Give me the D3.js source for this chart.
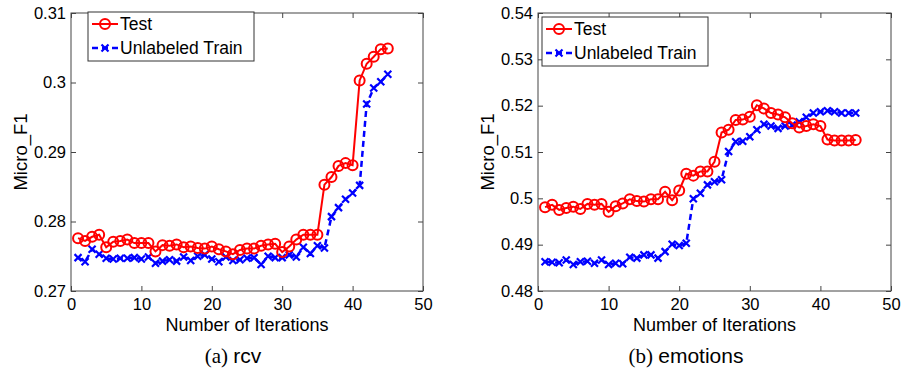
<!DOCTYPE html>
<html>
<head>
<meta charset="utf-8">
<script src="https://cdn.jsdelivr.net/npm/d3@7"></script>
<style>
  body { margin: 0; background: #fff; }
  svg text { font-family: "Liberation Sans", Arial, sans-serif; fill: #000; }
</style>
</head>
<body>
<svg id="chart" width="901" height="370"></svg>
<script>
// iterations 1..45
var iterations = d3.range(1, 46);

// (a) rcv
var rcvTest = [0.2776, 0.2772, 0.2778, 0.2781, 0.2763, 0.2771, 0.2772, 0.2774, 0.2769, 0.2769,
  0.2769, 0.2757, 0.2766, 0.2765, 0.2767, 0.2763, 0.2764, 0.2762, 0.2761, 0.2764,
  0.2760, 0.2757, 0.2753, 0.2759, 0.2761, 0.2761, 0.2765, 0.2767, 0.2768, 0.2756,
  0.2764, 0.2774, 0.2781, 0.2781, 0.2781, 0.2853, 0.2864, 0.2880, 0.2884, 0.2881,
  0.3003, 0.3027, 0.3037, 0.3048, 0.3049];
var rcvTrain = [0.2748, 0.2742, 0.2760, 0.2753, 0.2747, 0.2746, 0.2747, 0.2747, 0.2748, 0.2746,
  0.2749, 0.2740, 0.2743, 0.2745, 0.2743, 0.2749, 0.2744, 0.2750, 0.2752, 0.2746,
  0.2742, 0.2749, 0.2744, 0.2745, 0.2747, 0.2748, 0.2738, 0.2750, 0.2748, 0.2748,
  0.2752, 0.2749, 0.2763, 0.2754, 0.2765, 0.2762, 0.2807, 0.2820, 0.2832, 0.2841,
  0.2852, 0.2969, 0.2992, 0.3001, 0.3012];

// (b) emotions
var emoTest = [0.4981, 0.4986, 0.4975, 0.4979, 0.4982, 0.4977, 0.4988, 0.4986, 0.4988, 0.4971,
  0.4983, 0.4989, 0.4998, 0.4994, 0.4993, 0.4998, 0.4998, 0.5014, 0.4996, 0.5017,
  0.5053, 0.5049, 0.5058, 0.5058, 0.5079, 0.5142, 0.5148, 0.5169, 0.5170, 0.5176,
  0.5201, 0.5194, 0.5184, 0.5181, 0.5175, 0.5162, 0.5153, 0.5156, 0.5160, 0.5156,
  0.5127, 0.5125, 0.5125, 0.5125, 0.5126];
var emoTrain = [0.4863, 0.4862, 0.4861, 0.4867, 0.4857, 0.4863, 0.4864, 0.4860, 0.4867, 0.4857,
  0.4860, 0.4859, 0.4873, 0.4871, 0.4878, 0.4878, 0.4871, 0.4885, 0.4901, 0.4898,
  0.4903, 0.4999, 0.5011, 0.5029, 0.5036, 0.5040, 0.5101, 0.5122, 0.5123, 0.5133,
  0.5148, 0.5160, 0.5156, 0.5151, 0.5156, 0.5158, 0.5165, 0.5175, 0.5184, 0.5187,
  0.5189, 0.5187, 0.5184, 0.5184, 0.5184];

var xTicks = [0, 10, 20, 30, 40, 50];
var rcvTicks = [0.27, 0.28, 0.29, 0.30, 0.31];
var emoTicks = [0.48, 0.49, 0.50, 0.51, 0.52, 0.53, 0.54];
var seriesNames = ["Test", "Unlabeled Train"];

var svg = d3.select("#chart");

function panel(opt) {
  var x = d3.scaleLinear().domain([0, 50]).range([opt.left, opt.right]);
  var y = d3.scaleLinear().domain(opt.yDomain).range([opt.bottom, opt.top]);
  var g = svg.append("g");
  var fmt = function(d) { return String(+d.toFixed(2)); };

  // axes with inward ticks, MATLAB box style
  var bx = g.append("g").attr("transform", "translate(0," + opt.bottom + ")")
    .call(d3.axisBottom(x).tickValues(xTicks).tickSize(-5).tickPadding(7).tickFormat(fmt));
  var tx = g.append("g").attr("transform", "translate(0," + opt.top + ")")
    .call(d3.axisTop(x).tickValues(xTicks).tickSize(-5).tickFormat(""));
  var ly = g.append("g").attr("transform", "translate(" + opt.left + ",0)")
    .call(d3.axisLeft(y).tickValues(opt.yTicks).tickSize(-5).tickPadding(5).tickFormat(fmt));
  var ry = g.append("g").attr("transform", "translate(" + opt.right + ",0)")
    .call(d3.axisRight(y).tickValues(opt.yTicks).tickSize(-5).tickFormat(""));
  [bx, tx, ly, ry].forEach(function(a) {
    a.select(".domain").remove();
    a.selectAll("line").attr("stroke", "#444");
    a.selectAll("text").style("font-size", "16.5px").attr("fill", "#000");
  });

  g.append("rect")
    .attr("x", opt.left).attr("y", opt.top)
    .attr("width", opt.right - opt.left).attr("height", opt.bottom - opt.top)
    .attr("fill", "none").attr("stroke", "#444").attr("stroke-width", 1);

  var line = d3.line().x(function(d) { return x(d[0]); }).y(function(d) { return y(d[1]); });
  var test = d3.zip(iterations, opt.test);
  var train = d3.zip(iterations, opt.train);

  // blue dashed with x markers
  g.append("path").datum(train)
    .attr("d", line).attr("fill", "none")
    .attr("stroke", "#0000ff").attr("stroke-width", 2.5).attr("stroke-dasharray", "6,4");
  g.selectAll(".xm").data(train).enter().append("path")
    .attr("class", "xm")
    .attr("transform", function(d) { return "translate(" + x(d[0]) + "," + y(d[1]) + ")"; })
    .attr("d", "M-3.5,-3.5L3.5,3.5M-3.5,3.5L3.5,-3.5")
    .attr("stroke", "#0000ff").attr("stroke-width", 2.2);

  // red solid with circle markers
  g.append("path").datum(test)
    .attr("d", line).attr("fill", "none")
    .attr("stroke", "#ff0000").attr("stroke-width", 2);
  g.selectAll(".cm").data(test).enter().append("circle")
    .attr("class", "cm")
    .attr("cx", function(d) { return x(d[0]); })
    .attr("cy", function(d) { return y(d[1]); })
    .attr("r", 5).attr("fill", "none")
    .attr("stroke", "#ff0000").attr("stroke-width", 2);

  // legend
  var lg = g.append("g").attr("transform", "translate(" + opt.legX + "," + opt.legY + ")");
  lg.append("rect").attr("width", opt.legW).attr("height", 49)
    .attr("fill", "#fff").attr("stroke", "#333").attr("stroke-width", 1);
  lg.append("line").attr("x1", 4).attr("x2", 30).attr("y1", 12).attr("y2", 12)
    .attr("stroke", "#ff0000").attr("stroke-width", 2);
  lg.append("circle").attr("cx", 17).attr("cy", 12).attr("r", 5)
    .attr("fill", "none").attr("stroke", "#ff0000").attr("stroke-width", 2);
  lg.append("line").attr("x1", 4).attr("x2", 30).attr("y1", 36).attr("y2", 36)
    .attr("stroke", "#0000ff").attr("stroke-width", 2.5).attr("stroke-dasharray", "6,4");
  lg.append("path").attr("transform", "translate(17,36)")
    .attr("d", "M-3.5,-3.5L3.5,3.5M-3.5,3.5L3.5,-3.5")
    .attr("stroke", "#0000ff").attr("stroke-width", 2.2);
  lg.selectAll(".lt").data(seriesNames).enter().append("text")
    .attr("class", "lt")
    .attr("x", 32).attr("y", function(d, i) { return 12 + i * 24; })
    .attr("dy", "0.36em").style("font-size", "17.5px")
    .text(function(d) { return d; });

  // axis titles
  g.append("text")
    .attr("transform", "translate(" + (opt.left - 50) + "," + ((opt.top + opt.bottom) / 2) + ") rotate(-90)")
    .attr("text-anchor", "middle").attr("dy", "0.35em").style("font-size", "18.5px")
    .text("Micro_F1");
  g.append("text")
    .attr("x", (opt.left + opt.right) / 2).attr("y", 331)
    .attr("text-anchor", "middle").style("font-size", "18px")
    .text("Number of Iterations");

  // sub caption
  var cap = g.append("text").attr("x", opt.capX).attr("y", 363)
    .attr("text-anchor", "middle").style("font-size", "21px");
  cap.append("tspan").style("font-family", "'Liberation Serif', 'Times New Roman', serif").text(opt.capA);
  cap.append("tspan").text(opt.capB);
}

panel({
  left: 71, right: 423, top: 13, bottom: 291,
  yDomain: [0.27, 0.31], yTicks: rcvTicks,
  test: rcvTest, train: rcvTrain,
  legX: 88, legY: 12, legW: 166,
  capX: 233, capA: "(a) ", capB: "rcv"
});
panel({
  left: 538, right: 891, top: 13, bottom: 291,
  yDomain: [0.48, 0.54], yTicks: emoTicks,
  test: emoTest, train: emoTrain,
  legX: 542, legY: 17, legW: 166,
  capX: 686, capA: "(b) ", capB: "emotions"
});
</script>
</body>
</html>
